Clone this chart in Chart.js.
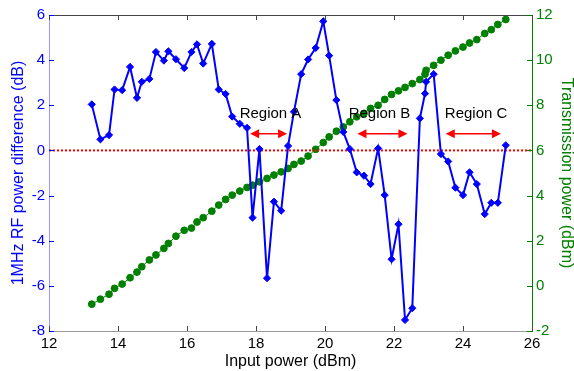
<!DOCTYPE html>
<html>
<head>
<meta charset="utf-8">
<script src="https://cdn.jsdelivr.net/npm/chart.js@4.4.0/dist/chart.umd.min.js"></script>
<style>
  html, body { margin: 0; padding: 0; background: #fff; }
</style>
</head>
<body>
<canvas id="chart" width="574" height="371"></canvas>
<script>
const inputPower = [13.24, 13.49, 13.74, 13.9, 14.12, 14.35, 14.55, 14.69, 14.91, 15.1,
    15.33, 15.46, 15.68, 15.92, 16.13, 16.29, 16.47, 16.72, 16.92, 17.12,
    17.31, 17.53, 17.74, 17.9, 18.1, 18.32, 18.52, 18.73, 18.93, 19.1,
    19.31, 19.51, 19.73, 19.95, 20.12, 20.33, 20.53, 20.72, 20.92, 21.13,
    21.32, 21.54, 21.73, 21.93, 22.13, 22.32, 22.53, 22.75, 22.9, 22.93,
    23.15, 23.36, 23.57, 23.78, 24.0, 24.19, 24.4, 24.63, 24.82, 25.01, 25.24]

const rfDiff = [2.04, 0.49, 0.68, 2.7, 2.67, 3.7, 2.33, 3.04, 3.17, 4.36,
    3.98, 4.39, 4.04, 3.65, 4.36, 4.7, 3.85, 4.72, 2.7, 2.5,
    1.5, 1.18, 1.0, -2.98, 0.06, -5.66, -2.27, -2.67, 0.2, 1.71,
    3.38, 4.03, 4.54, 5.72, 4.2, 2.23, 0.82, 0.06, -0.97, -1.12,
    -1.49, 0.09, -1.98, -4.82, -3.27, -7.51, -6.99, 1.42, 2.52, 3.04,
    3.38, -0.16, -0.49, -1.65, -1.98, -0.97, -1.49, -2.82, -2.32, -2.32, 0.23]

const txPower = [-0.81, -0.59, -0.37, -0.11, 0.08, 0.36, 0.61, 0.85, 1.15, 1.37,
    1.66, 1.88, 2.2, 2.46, 2.56, 2.83, 3.02, 3.31, 3.58, 3.83,
    4.02, 4.2, 4.36, 4.46, 4.61, 4.76, 4.91, 5.05, 5.2, 5.38,
    5.53, 5.75, 6.05, 6.35, 6.6, 6.85, 7.04, 7.27, 7.49, 7.64,
    7.86, 8.0, 8.26, 8.48, 8.64, 8.79, 8.96, 9.14, 9.38, 9.55,
    9.77, 10.0, 10.22, 10.41, 10.58, 10.76, 10.91, 11.18, 11.35, 11.58, 11.8]

const zeroLineX = [12, 26]
const zeroLineY = [0, 0]

// region labels with their double arrows (x in dBm, y on the left axis)
const regionNames = ['Region A', 'Region B', 'Region C']
const regionLabelX = [18.42, 21.58, 24.38]
const regionLabelY = 1.6
const regionFrom = [17.83, 20.94, 23.5]
const regionTo = [18.9, 22.39, 25.1]
const regionArrowY = 0.74

Chart.defaults.font.family = "'Liberation Sans', Arial, sans-serif"

function points(xs, ys) {
    return xs.map((x, i) => ({ x: x, y: ys[i] }))
}

function arrowHead(ctx, x, y, dir) {
    ctx.beginPath()
    ctx.moveTo(x, y)
    ctx.lineTo(x - dir * 9, y - 4.5)
    ctx.lineTo(x - dir * 9, y + 4.5)
    ctx.closePath()
    ctx.fill()
}

const decor = {
    id: 'decor',
    afterDraw(chart) {
        const ctx = chart.ctx
        const area = chart.chartArea
        const sx = chart.scales.x
        const sy = chart.scales.y
        const sy1 = chart.scales.y1
        ctx.save()

        // top frame line
        ctx.strokeStyle = '#444'
        ctx.lineWidth = 1
        ctx.beginPath()
        ctx.moveTo(area.left, area.top + 0.5)
        ctx.lineTo(area.right, area.top + 0.5)
        ctx.stroke()

        // inward tick marks
        ctx.beginPath()
        sx.ticks.forEach(t => {
            const px = Math.round(sx.getPixelForValue(t.value)) + 0.5
            ctx.moveTo(px, area.bottom)
            ctx.lineTo(px, area.bottom - 5)
            ctx.moveTo(px, area.top)
            ctx.lineTo(px, area.top + 5)
        })
        ctx.stroke()

        ctx.strokeStyle = '#0000ff'
        ctx.beginPath()
        sy.ticks.forEach(t => {
            const py = Math.round(sy.getPixelForValue(t.value)) + 0.5
            ctx.moveTo(area.left, py)
            ctx.lineTo(area.left + 5, py)
        })
        ctx.stroke()

        ctx.strokeStyle = '#008000'
        ctx.beginPath()
        sy1.ticks.forEach(t => {
            const py = Math.round(sy1.getPixelForValue(t.value)) + 0.5
            ctx.moveTo(area.right, py)
            ctx.lineTo(area.right - 5, py)
        })
        ctx.stroke()

        // region labels and arrows
        ctx.fillStyle = '#000'
        ctx.font = "15px 'Liberation Sans', Arial, sans-serif"
        ctx.textAlign = 'center'
        ctx.textBaseline = 'middle'
        regionNames.forEach((name, i) => {
            ctx.fillText(name, sx.getPixelForValue(regionLabelX[i]), sy.getPixelForValue(regionLabelY))
        })

        ctx.strokeStyle = '#ff0000'
        ctx.fillStyle = '#ff0000'
        ctx.lineWidth = 1.5
        const ay = sy.getPixelForValue(regionArrowY)
        regionFrom.forEach((from, i) => {
            const x1 = sx.getPixelForValue(from)
            const x2 = sx.getPixelForValue(regionTo[i])
            ctx.beginPath()
            ctx.moveTo(x1 + 5, ay)
            ctx.lineTo(x2 - 5, ay)
            ctx.stroke()
            arrowHead(ctx, x1, ay, -1)
            arrowHead(ctx, x2, ay, 1)
        })

        ctx.restore()
    }
}

function renderChart() {
    const ctx = document.getElementById('chart').getContext('2d')
    const chart = new Chart(ctx, {
        type: 'line',
        data: {
            datasets: [
                {
                    label: '1MHz RF power difference',
                    data: points(inputPower, rfDiff),
                    yAxisID: 'y',
                    borderColor: '#0000ff',
                    backgroundColor: '#0000ff',
                    borderWidth: 2,
                    pointStyle: 'rectRot',
                    pointRadius: 3.6,
                    pointBorderWidth: 1,
                    order: 0
                },
                {
                    label: 'zero',
                    data: points(zeroLineX, zeroLineY),
                    yAxisID: 'y',
                    borderColor: '#ff0000',
                    borderWidth: 2,
                    borderDash: [2, 2],
                    pointRadius: 0,
                    order: 1
                },
                {
                    label: 'Transmission power',
                    data: points(inputPower, txPower),
                    yAxisID: 'y1',
                    borderColor: '#008000',
                    backgroundColor: '#008000',
                    borderWidth: 1,
                    pointStyle: 'circle',
                    pointRadius: 3.4,
                    pointBorderWidth: 1,
                    order: 2
                }
            ]
        },
        options: {
            responsive: false,
            animation: false,
            devicePixelRatio: 1,
            layout: { padding: { top: 15, left: 0, right: 0, bottom: 0 } },
            plugins: {
                legend: { display: false },
                tooltip: { enabled: false }
            },
            scales: {
                x: {
                    type: 'linear',
                    min: 12,
                    max: 26,
                    ticks: { stepSize: 2, color: '#000', font: { size: 15 }, padding: 4, maxRotation: 0 },
                    grid: { display: false, drawTicks: false },
                    border: { display: true, color: '#999' },
                    title: {
                        display: true,
                        text: 'Input power (dBm)',
                        color: '#000',
                        font: { size: 16, lineHeight: 1 },
                        padding: { top: 0, bottom: 1 }
                    },
                    afterFit: s => { s.height = 40 }
                },
                y: {
                    position: 'left',
                    min: -8,
                    max: 6,
                    ticks: { stepSize: 2, color: '#0000ff', font: { size: 15 }, padding: 4 },
                    grid: { display: false, drawTicks: false },
                    border: { display: true, color: '#9999ff' },
                    title: {
                        display: true,
                        text: '1MHz RF power difference (dB)',
                        color: '#0000ff',
                        font: { size: 16, lineHeight: 1 },
                        padding: { top: 11, bottom: 0 }
                    },
                    afterFit: s => { s.width = 49 }
                },
                y1: {
                    position: 'right',
                    min: -2,
                    max: 12,
                    ticks: { stepSize: 2, color: '#008000', font: { size: 15 }, padding: 4 },
                    grid: { display: false, drawTicks: false },
                    border: { display: true, color: '#008000' },
                    title: {
                        display: true,
                        text: 'Transmission power (dBm)',
                        color: '#008000',
                        font: { size: 16, lineHeight: 1 },
                        padding: { top: 0, bottom: 0 }
                    },
                    afterFit: s => { s.width = 42 }
                }
            }
        },
        plugins: [decor]
    })
}

renderChart()
</script>
</body>
</html>
